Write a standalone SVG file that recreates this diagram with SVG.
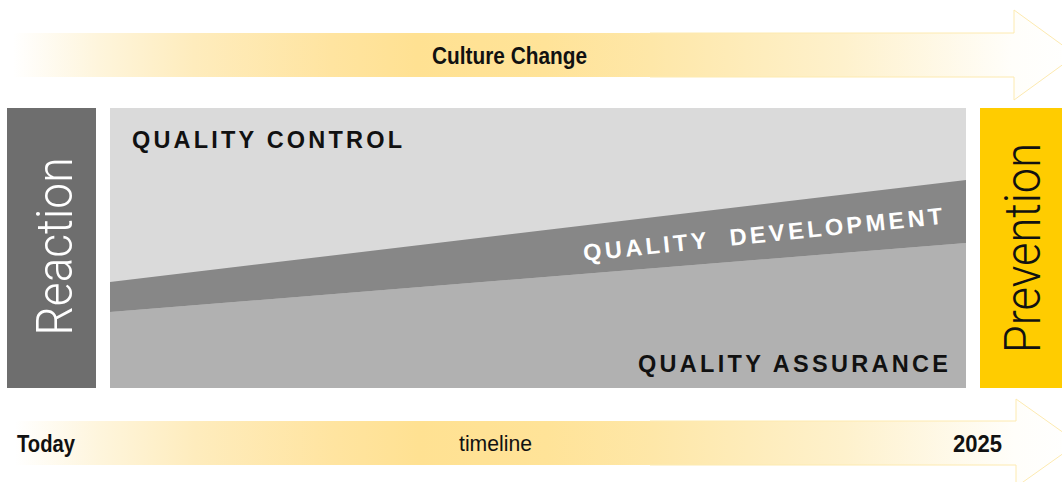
<svg xmlns="http://www.w3.org/2000/svg" width="1062" height="482" viewBox="0 0 1062 482">
  <defs>
    <linearGradient id="gTop" x1="13" y1="0" x2="1076" y2="0" gradientUnits="userSpaceOnUse">
      <stop offset="0" stop-color="#ffffff"/>
      <stop offset="0.08" stop-color="#fef5dc"/>
      <stop offset="0.17" stop-color="#feecbd"/>
      <stop offset="0.3" stop-color="#ffe4a0"/>
      <stop offset="0.38" stop-color="#ffe192"/>
      <stop offset="0.5" stop-color="#ffe398"/>
      <stop offset="0.6" stop-color="#fee7a8"/>
      <stop offset="0.78" stop-color="#fef1cc"/>
      <stop offset="0.94" stop-color="#fffefa"/>
      <stop offset="1" stop-color="#ffffff"/>
    </linearGradient>
    <linearGradient id="gBot" x1="15" y1="0" x2="1078" y2="0" gradientUnits="userSpaceOnUse">
      <stop offset="0" stop-color="#ffffff"/>
      <stop offset="0.08" stop-color="#fef5dc"/>
      <stop offset="0.17" stop-color="#feecbd"/>
      <stop offset="0.3" stop-color="#ffe4a0"/>
      <stop offset="0.38" stop-color="#ffe192"/>
      <stop offset="0.5" stop-color="#ffe398"/>
      <stop offset="0.6" stop-color="#fee7a8"/>
      <stop offset="0.78" stop-color="#fef1cc"/>
      <stop offset="0.94" stop-color="#fffefa"/>
      <stop offset="1" stop-color="#ffffff"/>
    </linearGradient>
    <style>
      .edge { fill: none; stroke: #fdeab0; stroke-width: 1; }
      .bold { font-family: "Liberation Sans", Arial, sans-serif; font-weight: bold; }
      .reg { font-family: "Liberation Sans", Arial, sans-serif; }
      .light { font-family: Roboto, "Liberation Sans", sans-serif; font-weight: 300; }
      .label { font-size: 23.5px; fill: #111111; }
    </style>
  </defs>

  <g id="culture-change">
    <polygon fill="url(#gTop)" points="13,33 1014,33 1014,10 1076,55 1014,100 1014,77 13,77"/>
    <polyline class="edge" points="650,33 1014,33 1014,10 1076,55 1014,100 1014,77 650,77"/>
    <text class="bold" x="509.5" y="63.5" font-size="24" text-anchor="middle" textLength="155" lengthAdjust="spacingAndGlyphs" fill="#111">Culture Change</text>
  </g>

  <g id="timeline">
    <polygon fill="url(#gBot)" points="15,421 1016,421 1016,399 1078,443 1016,487 1016,465 15,465"/>
    <polyline class="edge" points="650,421 1016,421 1016,399 1078,443 1016,487 1016,465 650,465"/>
    <text class="bold" x="17" y="452" font-size="24" textLength="58" lengthAdjust="spacingAndGlyphs" fill="#111">Today</text>
    <text class="reg" x="459" y="451" font-size="22.5" textLength="73" lengthAdjust="spacingAndGlyphs" fill="#111">timeline</text>
    <text class="bold" x="1002" y="452" font-size="24" text-anchor="end" textLength="49" lengthAdjust="spacingAndGlyphs" fill="#111">2025</text>
  </g>

  <g id="reaction">
    <rect x="7" y="108" width="89" height="280" fill="#6e6e6e"/>
    <text class="light" transform="translate(72,246.5) rotate(-90)" x="0" y="0" font-size="50" text-anchor="middle" textLength="178" lengthAdjust="spacingAndGlyphs" fill="#ffffff">Reaction</text>
  </g>

  <g id="quality-control">
    <rect x="110" y="108" width="856" height="280" fill="#dadada"/>
    <text class="bold label" x="132" y="148" textLength="270" lengthAdjust="spacing">QUALITY CONTROL</text>
  </g>

  <g id="quality-assurance">
    <polygon points="110,312 966,243 966,388 110,388" fill="#b1b1b1"/>
    <text class="bold label" x="638" y="372" textLength="310" lengthAdjust="spacing">QUALITY ASSURANCE</text>
  </g>

  <g id="quality-development">
    <polygon points="110,282 966,180 966,243 110,312" fill="#878787"/>
    <text class="bold" transform="translate(584,261) rotate(-5.9)" x="0" y="0" font-size="23.5" textLength="361" lengthAdjust="spacing" fill="#ffffff" xml:space="preserve">QUALITY  DEVELOPMENT</text>
  </g>

  <g id="prevention">
    <rect x="980" y="108" width="82" height="280" fill="#ffcc00"/>
    <text class="light" transform="translate(1040,248) rotate(-90)" x="0" y="0" font-size="50" text-anchor="middle" textLength="210" lengthAdjust="spacingAndGlyphs" fill="#111111">Prevention</text>
  </g>

  <g id="connectors"></g>
</svg>
